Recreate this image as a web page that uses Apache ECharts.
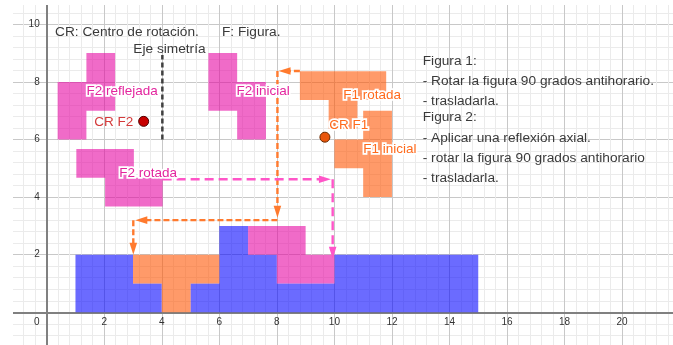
<!DOCTYPE html>
<html><head><meta charset="utf-8">
<script src="https://cdn.jsdelivr.net/npm/echarts/dist/echarts.min.js"></script>
<style>html,body{margin:0;padding:0;background:#fff}#c{width:673px;height:345px}</style>
</head><body><div id="c"></div>
<script>
// ---- data (world coordinates) ----
const xTickLabels = [2,4,6,8,10,12,14,16,18,20];
const yTickLabels = [2,4,6,8,10];
const blueLeft   = [[1,0],[1,2],[3,2],[3,1],[4,1],[4,0]];
const blueRight  = [[5,0],[5,1],[6,1],[6,3],[7,3],[7,2],[8,2],[8,1],[10,1],[10,2],[15,2],[15,0]];
const orangePlaced = [[3,1],[3,2],[6,2],[6,1],[5,1],[5,0],[4,0],[4,1]];
const pinkPlaced   = [[7,2],[7,3],[9,3],[9,2],[10,2],[10,1],[8,1],[8,2]];
const f1Inicial  = [[11,4],[11,5],[10,5],[10,6],[11,6],[11,7],[12,7],[12,4]];
const f1Rotada   = [[8.8,8.37],[11.8,8.37],[11.8,7.37],[10.8,7.37],[10.8,6.37],[9.8,6.37],[9.8,7.37],[8.8,7.37]];
const f2Inicial  = [[5.62,9],[6.62,9],[6.62,8],[7.62,8],[7.62,6],[6.62,6],[6.62,7],[5.62,7]];
const f2Reflejada= [[2.38,9],[1.38,9],[1.38,8],[0.38,8],[0.38,6],[1.38,6],[1.38,7],[2.38,7]];
const f2Rotada   = [[1.03,5.67],[3.03,5.67],[3.03,4.67],[4.03,4.67],[4.03,3.67],[2.03,3.67],[2.03,4.67],[1.03,4.67]];
const orangeArrows = [[8.8,8.38,8.06,8.38],[8.02,8.38,8.02,3.28],[8.02,3.2,3.08,3.2],[3.01,3.2,3.01,2.0]];
const pinkArrows   = [[4.03,4.62,9.88,4.62],[9.94,4.62,9.94,1.86]];
const symAxis    = [[4.02,6.0],[4.02,8.93]];
const crF1 = [9.67,6.08];
const crF2 = [3.37,6.63];
const blackTexts = [
  [0.29,9.74,'CR: Centro de rotación.'],
  [6.09,9.74,'F: Figura.'],
  [3.01,9.13,'Eje simetría'],
  [13.07,8.73,'Figura 1:'],
  [13.07,8.01,'- Rotar la figura 90 grados antihorario.'],
  [13.07,7.33,'- trasladarla.'],
  [13.07,6.77,'Figura 2:'],
  [13.07,6.04,'- Aplicar una reflexión axial.'],
  [13.07,5.35,'- rotar la figura 90 grados antihorario'],
  [13.07,4.65,'- trasladarla.']
];
const pinkTexts = [[1.38,7.69,'F2 reflejada'],[6.6,7.69,'F2 inicial'],[2.52,4.83,'F2 rotada']];
const orangeTexts = [[10.31,7.52,'F1 rotada'],[9.82,6.5,'CR F1'],[11.0,5.67,'F1 inicial']];
const redTexts = [[1.65,6.6,'CR F2']];

// ---- styling ----
const BLUE='rgba(0,0,255,0.58)', ORANGE='rgba(255,86,5,0.6)', PINK='rgba(230,0,160,0.58)';
const FONT='Liberation Sans, Arial, sans-serif';

function polySeries(poly, color){
  return {type:'custom', coordinateSystem:'cartesian2d', data:poly, silent:true, clip:false,
    renderItem:(p,api)=>{ if(p.dataIndex!==0) return; return {type:'polygon', shape:{points:poly.map(q=>api.coord(q))}, style:{fill:color}}; }};
}
function arrowSeries(arr, color, dash){
  return {type:'custom', coordinateSystem:'cartesian2d', data:arr, silent:true, z:3, clip:false,
    renderItem:(p,api)=>{
      const a=api.coord([api.value(0),api.value(1)]), b=api.coord([api.value(2),api.value(3)]);
      const dx=b[0]-a[0], dy=b[1]-a[1], len=Math.hypot(dx,dy), ux=dx/len, uy=dy/len;
      const L=12, W=3.8;
      const bx=b[0]-ux*L, by=b[1]-uy*L;
      return {type:'group', children:[
        {type:'line', shape:{x1:a[0],y1:a[1],x2:bx+ux*3,y2:by+uy*3}, style:{stroke:color,lineWidth:2.4,lineDash:dash}},
        {type:'polygon', shape:{points:[[b[0],b[1]],[bx-uy*W,by+ux*W],[bx+uy*W,by-ux*W]]}, style:{fill:color}}
      ]};
    }};
}
function textSeries(pts, texts, color, size, halo, align, dx, dy){
  return {type:'custom', coordinateSystem:'cartesian2d', data:pts, silent:true, z:5, clip:false,
    renderItem:(p,api)=>{
      const c=api.coord([api.value(0),api.value(1)]);
      const st={text:String(texts[p.dataIndex]), x:c[0]+(dx||0), y:c[1]+(dy||0), fill:color, fontSize:size, fontFamily:FONT, align:align||'left', verticalAlign:'middle'};
      if(halo){ st.stroke='#fff'; st.lineWidth=3.5; }
      return {type:'text', style:st};
    }};
}
function annot(arr, color, size, halo){
  return textSeries(arr.map(t=>[t[0],t[1]]), arr.map(t=>t[2]), color, size, halo);
}

const chart = echarts.init(document.getElementById('c'), null, {renderer:'canvas'});
chart.setOption({
  animation:false,
  grid:{left:-10.84, right:-6.64, top:-4.5, bottom:-24.9, containLabel:false, outerBoundsMode:'none'},
  xAxis:{type:'value', min:-2, max:22, interval:2,
    axisLine:{onZero:true, lineStyle:{color:'#808080', width:2}},
    axisTick:{show:false},
    axisLabel:{show:false},
    splitLine:{show:true, lineStyle:{color:'#c8c8c8', width:1}},
    minorTick:{show:false, splitNumber:5},
    minorSplitLine:{show:true, lineStyle:{color:'#ebebeb', width:1}}},
  yAxis:{type:'value', min:-2, max:11, interval:2,
    axisLine:{onZero:true, lineStyle:{color:'#808080', width:2}},
    axisTick:{show:false},
    axisLabel:{show:false},
    splitLine:{show:true, lineStyle:{color:'#c8c8c8', width:1}},
    minorTick:{show:false, splitNumber:5},
    minorSplitLine:{show:true, lineStyle:{color:'#ebebeb', width:1}}},
  graphic:[
    {type:'rect', left:0, top:0, shape:{width:13, height:345}, style:{fill:'#fff'}, z:100},
    {type:'rect', left:0, top:0, shape:{width:673, height:5}, style:{fill:'#fff'}, z:100}
  ],
  series:[
    polySeries(blueLeft, BLUE), polySeries(blueRight, BLUE),
    polySeries(orangePlaced, ORANGE), polySeries(pinkPlaced, PINK),
    polySeries(f1Inicial, ORANGE), polySeries(f1Rotada, ORANGE),
    polySeries(f2Inicial, PINK), polySeries(f2Reflejada, PINK), polySeries(f2Rotada, PINK),
    {type:'custom', coordinateSystem:'cartesian2d', data:symAxis, silent:true, z:3,
      renderItem:(p,api)=>{ if(p.dataIndex!==0) return; const a=api.coord(symAxis[0]), b=api.coord(symAxis[1]);
        return {type:'line', shape:{x1:a[0],y1:a[1],x2:b[0],y2:b[1]}, style:{stroke:'#404040',lineWidth:2.5,lineDash:[5,3]}}; }},
    arrowSeries(orangeArrows, '#ff7a2e', [6,3]),
    arrowSeries(pinkArrows, '#ff55c8', [9,5]),
    {type:'scatter', data:[crF1], symbolSize:10, z:4, itemStyle:{color:'#e8560c', borderColor:'#6a2a00', borderWidth:1, opacity:1}},
    {type:'scatter', data:[crF2], symbolSize:10, z:4, itemStyle:{color:'#c80000', borderColor:'#500000', borderWidth:1, opacity:1}},
    annot(blackTexts, '#3a3a3a', 13.7, false),
    annot(pinkTexts, '#e3259e', 13.5, true),
    annot(orangeTexts, '#ff6a1c', 13.5, true),
    annot(redTexts, '#d43a3a', 13.5, false),
    // tick labels
    textSeries(xTickLabels.map(v=>[v,0]), xTickLabels, '#333', 10, false, 'center', 0, 10),
    textSeries(yTickLabels.map(v=>[0,v]), yTickLabels, '#333', 10, false, 'right', -7, 0),
    textSeries([[0,0]], ['0'], '#333', 10, false, 'center', -10, 10)
  ]
});
</script></body></html>
